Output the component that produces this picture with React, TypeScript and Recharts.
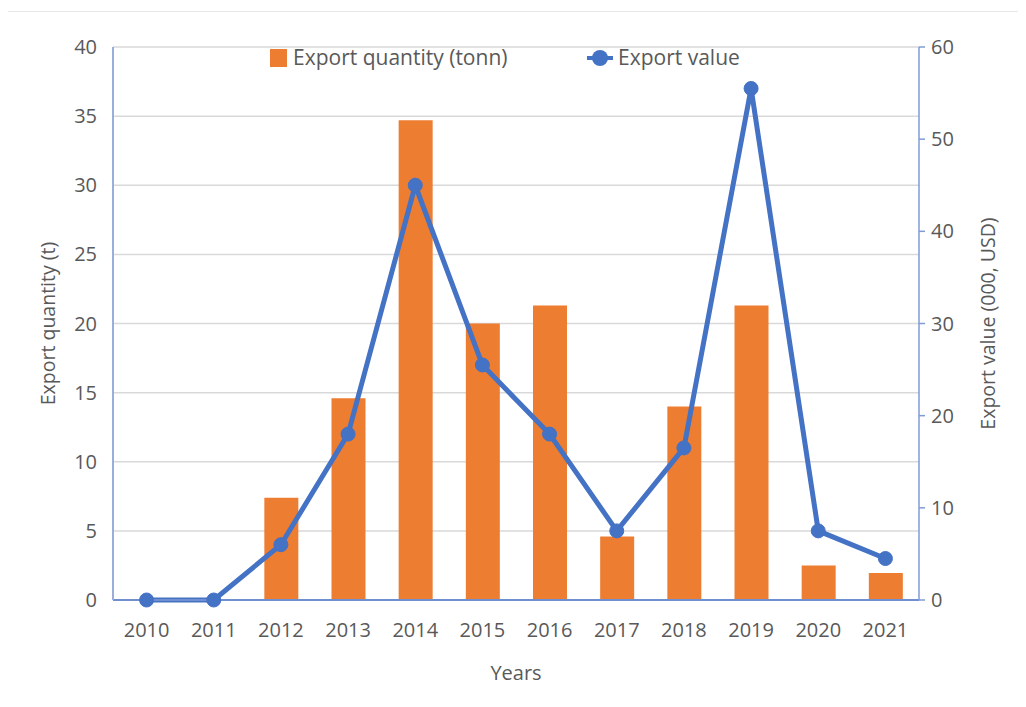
import React from "react";
import {
  Bar,
  CartesianGrid,
  ComposedChart,
  Legend,
  Line,
  XAxis,
  YAxis,
} from "recharts";

const years = ["2010", "2011", "2012", "2013", "2014", "2015", "2016", "2017", "2018", "2019", "2020", "2021"];
const exportQuantity = [0, 0, 7.4, 14.6, 34.7, 20.0, 21.3, 4.6, 14.0, 21.3, 2.5, 1.95];
const exportValue = [0, 0, 6.0, 18.0, 45.0, 25.5, 18.0, 7.5, 16.5, 55.5, 7.5, 4.5];
const leftTicks = [0, 5, 10, 15, 20, 25, 30, 35, 40];
const rightTicks = [0, 10, 20, 30, 40, 50, 60];

const data = years.map((year, i) => ({
  year,
  quantity: exportQuantity[i],
  value: exportValue[i],
}));

const FONT = "'Open Sans', 'Noto Sans', sans-serif";
const TEXT = "#595959";
const ORANGE = "#ED7D31";
const BLUE = "#4472C4";

const tickStyle = { fontSize: 20, fill: TEXT, fontFamily: FONT };

function LegendBox() {
  return (
    <div
      style={{
        position: "relative",
        height: 22,
        fontFamily: FONT,
        fontSize: 21,
        color: TEXT,
      }}
    >
      <div style={{ position: "absolute", left: 0, top: 2, width: 17, height: 18, background: ORANGE }} />
      <span style={{ position: "absolute", left: 23, top: -4, whiteSpace: "nowrap" }}>
        Export quantity (tonn)
      </span>
      <svg style={{ position: "absolute", left: 317, top: 0 }} width={26} height={22}>
        <line x1={0} y1={11} x2={26} y2={11} stroke={BLUE} strokeWidth={4} />
        <circle cx={13} cy={11} r={8} fill={BLUE} />
      </svg>
      <span style={{ position: "absolute", left: 348, top: -4, whiteSpace: "nowrap" }}>
        Export value
      </span>
    </div>
  );
}

export default function App() {
  return (
    <div style={{ position: "relative", width: 1010, height: 690, background: "#fff" }}>
      <div
        style={{
          position: "absolute",
          left: -1,
          top: 3,
          width: 1012,
          height: 690,
          borderLeft: "1px solid #e2e2e2",
          borderTop: "1px solid #e8e8e8",
          pointerEvents: "none",
        }}
      />
      <ComposedChart
        width={1010}
        height={690}
        data={data}
        margin={{ top: 39, right: 0, bottom: 0, left: 0 }}
      >
        <CartesianGrid yAxisId="left" vertical={false} stroke="#d9d9d9" strokeWidth={1.5} />
        <XAxis
          dataKey="year"
          height={98}
          axisLine={{ stroke: "#6f8fd0", strokeWidth: 2 }}
          tickLine={false}
          tickSize={0}
          tickMargin={23}
          tick={tickStyle}
          interval={0}
          label={{
            content: (props: any) => {
              const vb = props.viewBox;
              return (
                <text
                  x={vb.x + vb.width / 2}
                  y={vb.y + 72}
                  textAnchor="middle"
                  dominantBaseline="central"
                  fontSize={20}
                  fill={TEXT}
                  fontFamily={FONT}
                >
                  Years
                </text>
              );
            },
          }}
        />
        <YAxis
          yAxisId="left"
          orientation="left"
          width={105}
          domain={[0, 40]}
          ticks={leftTicks}
          axisLine={{ stroke: "#9aaedb", strokeWidth: 2 }}
          tickLine={false}
          tickSize={0}
          tickMargin={16}
          tick={tickStyle}
          label={{
            content: (props: any) => {
              const vb = props.viewBox;
              const cx = 39;
              const cy = vb.y + vb.height / 2;
              return (
                <text
                  x={cx}
                  y={cy}
                  transform={`rotate(-90, ${cx}, ${cy})`}
                  textAnchor="middle"
                  dominantBaseline="central"
                  fontSize={19.5}
                  fill={TEXT}
                  fontFamily={FONT}
                >
                  Export quantity (t)
                </text>
              );
            },
          }}
        />
        <YAxis
          yAxisId="right"
          orientation="right"
          width={99}
          domain={[0, 60]}
          ticks={rightTicks}
          axisLine={{ stroke: "#7f9bd6", strokeWidth: 1.5 }}
          tickLine={{ stroke: "#7f9bd6", strokeWidth: 1.5 }}
          tickSize={6}
          tickMargin={6}
          tick={tickStyle}
          label={{
            content: (props: any) => {
              const vb = props.viewBox;
              const cx = vb.x + 68;
              const cy = vb.y + vb.height / 2;
              return (
                <text
                  x={cx}
                  y={cy}
                  transform={`rotate(-90, ${cx}, ${cy})`}
                  textAnchor="middle"
                  dominantBaseline="central"
                  fontSize={19.5}
                  fill={TEXT}
                  fontFamily={FONT}
                >
                  Export value (000, USD)
                </text>
              );
            },
          }}
        />
        <Legend
          layout="horizontal"
          verticalAlign="middle"
          wrapperStyle={{ top: 39, left: 262, width: 560 }}
          content={() => <LegendBox />}
        />
        <Bar
          yAxisId="left"
          dataKey="quantity"
          name="Export quantity (tonn)"
          fill={ORANGE}
          barSize={34}
          isAnimationActive={false}
        />
        <Line
          yAxisId="right"
          type="linear"
          dataKey="value"
          name="Export value"
          stroke={BLUE}
          strokeWidth={5}
          dot={{ r: 7, fill: BLUE, stroke: BLUE, strokeWidth: 1 }}
          activeDot={false}
          isAnimationActive={false}
        />
      </ComposedChart>
    </div>
  );
}
